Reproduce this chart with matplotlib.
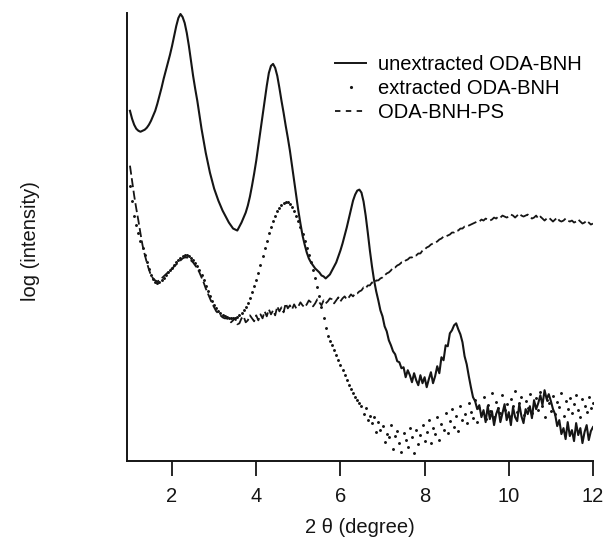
import numpy as np
import matplotlib.pyplot as plt
from matplotlib.lines import Line2D

plt.rcParams['font.family'] = ['Liberation Sans', 'DejaVu Sans']

# 2 theta grid (degree), 0.05 step
two_theta = np.round(np.linspace(1.0, 12.0, 221), 2)

# log (intensity), arbitrary units
unextracted = [
    351, 343, 337, 333, 331, 330, 331, 332, 334, 337,
    341, 346, 351, 358, 366, 374, 383, 391, 399, 407,
    416, 426, 436, 444, 448, 445, 439, 429, 416, 401,
    386, 373, 361, 347, 333, 321, 309, 299, 289, 281,
    273, 267, 261, 256, 251, 247, 243, 239, 236, 233,
    232, 231, 235, 239, 244, 249, 256, 265, 276, 288,
    301, 316, 331, 346, 361, 376, 389, 396, 398, 394,
    386, 374, 361, 349, 336, 324, 311, 296, 281, 266,
    251, 238, 226, 217, 209, 203, 199, 196, 193, 191,
    189, 186, 185, 183, 185, 187, 191, 195, 199, 205,
    211, 218, 226, 234, 243, 252, 261, 267, 271, 272,
    269, 260, 246, 229, 211, 195, 181, 170, 161, 151,
    145, 135, 130, 121, 116, 110, 107, 100, 99, 93,
    94, 84, 91, 86, 79, 88, 81, 76, 86, 78,
    84, 74, 82, 89, 78, 85, 95, 88, 104, 101,
    116, 115, 128, 131, 136, 138, 132, 127, 119, 105,
    97, 85, 74, 64, 60, 52, 56, 44, 51, 39,
    55, 42, 50, 36, 47, 53, 39, 48, 57, 41,
    49, 36, 54, 44, 40, 57, 45, 38, 52, 47,
    55, 43, 61, 52, 58, 66, 56, 71, 62, 67,
    60, 52, 47, 35, 41, 27, 33, 22, 39, 25,
    31, 20, 38, 26, 33, 18, 29, 36, 21, 30,
    34,
]

extracted = [
    276, 261, 246, 237, 229, 221, 213, 206, 199, 192,
    186, 182, 179, 178, 179, 181, 183, 186, 189, 191,
    193, 196, 199, 201, 203, 205, 206, 206, 205, 203,
    201, 198, 195, 191, 186, 181, 175, 170, 165, 160,
    156, 153, 150, 148, 146, 145, 144, 143, 143, 143,
    143, 144, 146, 148, 151, 154, 158, 163, 169, 175,
    181, 188, 196, 205, 213, 221, 229, 235, 241, 246,
    251, 254, 257, 259, 260, 260, 258, 255, 251, 246,
    241, 235, 228, 221, 213, 206, 199, 191, 183, 174,
    165, 154, 143, 133, 125, 120, 116, 111, 106, 101,
    96, 91, 86, 81, 76, 72, 68, 64, 61, 58,
    55, 47, 53, 41, 45, 38, 44, 29, 39, 31,
    35, 19, 27, 24, 36, 12, 25, 30, 18, 9,
    28, 21, 14, 33, 24, 8, 31, 17, 26, 36,
    20, 29, 41, 18, 33, 27, 44, 21, 37, 31,
    48, 28, 40, 52, 34, 45, 30, 55, 41, 47,
    38, 58, 49, 43, 61, 39, 53, 47, 64, 42,
    56, 50, 68, 44, 59, 53, 48, 66, 51, 57,
    45, 62, 55, 70, 49, 58, 64, 46, 60, 53,
    67, 48, 57, 63, 51, 69, 55, 44, 61, 58,
    50, 65, 47, 59, 54, 68, 45, 60, 52, 63,
    48, 57, 66, 51, 44, 62, 55, 49, 64, 53,
    58,
]

oda_bnh_ps = [
    296, 281, 266, 253, 241, 228, 216, 207, 199, 192,
    186, 183, 181, 180, 181, 183, 185, 187, 189, 191,
    193, 195, 197, 199, 201, 203, 204, 204, 203, 201,
    199, 196, 193, 189, 184, 179, 173, 168, 163, 158,
    154, 150, 148, 146, 144, 143, 143, 141, 139, 141,
    143, 137, 138, 143, 145, 139, 141, 146, 143, 140,
    146, 141, 147, 143, 150, 145, 152, 147, 151, 146,
    155, 150, 154, 149, 158, 153, 156, 152, 157, 153,
    155, 159, 156, 154, 157, 161, 159, 155, 158, 162,
    159, 156, 161, 158, 160, 163, 162, 158, 161, 164,
    160, 163, 165, 162, 164, 167, 165, 168, 168, 170,
    171, 174, 173, 176, 176, 179, 178, 181, 181, 183,
    184, 186, 188, 189, 191, 194, 194, 196, 197, 199,
    199, 201, 202, 204, 204, 206, 206, 208, 208, 211,
    212, 214, 215, 217, 218, 219, 220, 222, 223, 225,
    225, 226, 227, 229, 229, 231, 231, 233, 233, 235,
    235, 236, 237, 238, 239, 240, 240, 242, 241, 243,
    242, 241, 242, 244, 243, 245, 244, 246, 245, 244,
    245, 247, 246, 244, 246, 248, 246, 245, 246, 247,
    245, 243, 244, 246, 243, 245, 243, 241, 243, 244,
    242, 240, 242, 244, 241, 240, 241, 243, 241, 240,
    241, 239, 240, 242, 240, 238, 239, 241, 239, 237,
    238,
]

labels = ['unextracted ODA-BNH', 'extracted ODA-BNH', 'ODA-BNH-PS']
ink = '#151515'

fig = plt.figure(figsize=(6.06, 5.42), dpi=100)
ax = fig.add_axes([0.2096, 0.1494, 0.7689, 0.8266])

ax.plot(two_theta, unextracted, color=ink, lw=1.5)
ax.plot(two_theta, oda_bnh_ps, color=ink, lw=1.3, ls=(0, (5, 2)))
ax.plot(two_theta, extracted, ls='none', marker='.', ms=2.2, color=ink)

ax.set_xlim(0.93, 12)
ax.set_ylim(0, 449)
ax.set_xticks([2, 4, 6, 8, 10, 12])
ax.set_yticks([])
ax.tick_params(axis='x', direction='out', length=11, width=1.3,
               pad=8, labelsize=14.5, colors=ink)
for side in ['top', 'right']:
    ax.spines[side].set_visible(False)
for side in ['left', 'bottom']:
    ax.spines[side].set_linewidth(1.4)
    ax.spines[side].set_color(ink)

ax.set_xlabel('2 θ (degree)', fontsize=14.5, color=ink, labelpad=8)
fig.text(0.05, 0.555, 'log (intensity)', rotation=90, fontsize=14.5,
         color=ink, ha='center', va='center')

handles = [Line2D([], [], color=ink, lw=1.4),
           Line2D([], [], ls='none', marker='.', ms=2.5, color=ink),
           Line2D([], [], color=ink, lw=1.3, ls=(0, (3, 3)))]
ax.legend(handles, labels, loc='upper left', bbox_to_anchor=(0.43, 0.925),
          frameon=False, fontsize=14.5, handlelength=1.5, handletextpad=0.6,
          labelspacing=0.25, borderaxespad=0)

fig.savefig('out.png', dpi=100)
